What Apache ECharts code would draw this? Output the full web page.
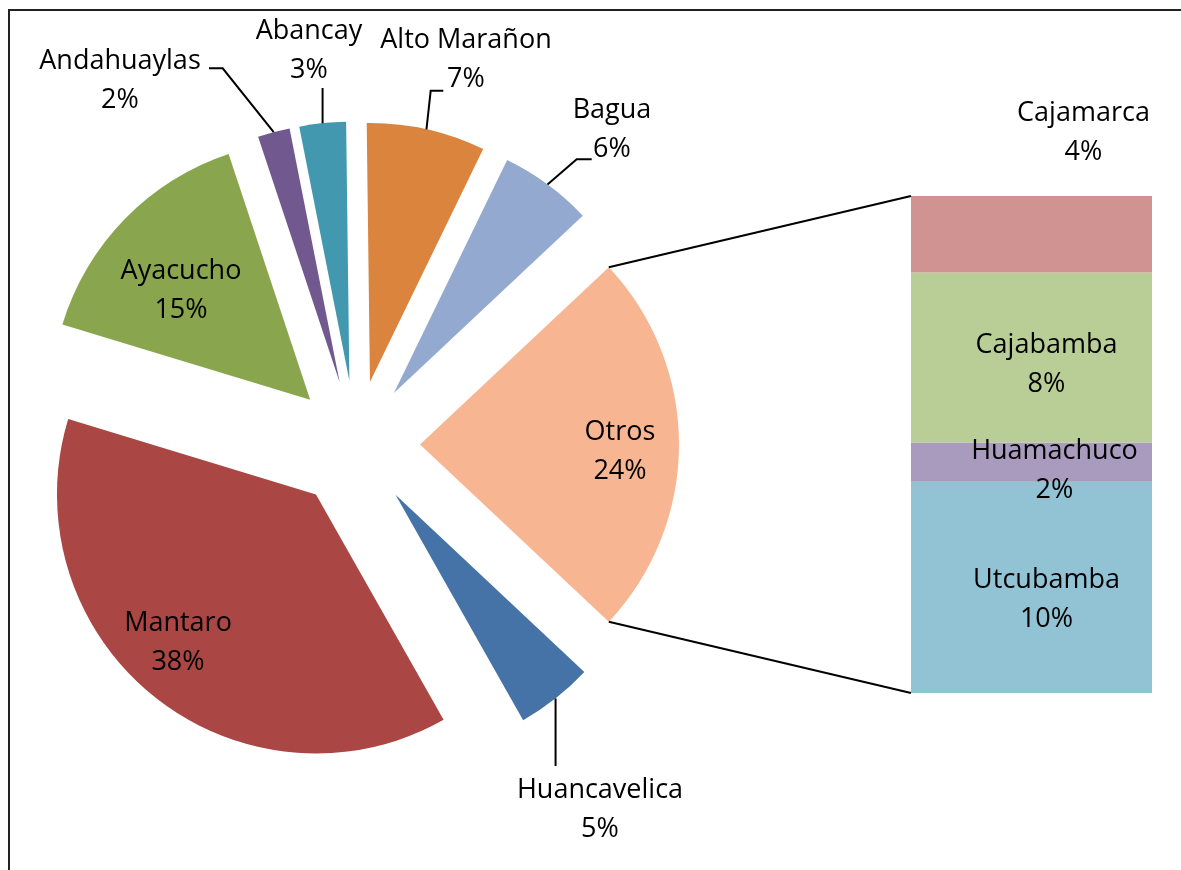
<!DOCTYPE html>
<html><head><meta charset="utf-8">
<script src="https://cdn.jsdelivr.net/npm/echarts@6/dist/echarts.min.js"></script>
<style>html,body{margin:0;padding:0;background:#fff}#c{width:1181px;height:870px}</style>
</head><body><div id="c"></div>
<script>
// ---- data ----
const pieNames = ['Otros', 'Huancavelica', 'Mantaro', 'Ayacucho', 'Andahuaylas', 'Abancay', 'Alto Marañon', 'Bagua'];
const pieValues = [24.0, 4.8, 37.9, 15.2, 2.0, 2.9, 7.4, 5.8];
const barNames = ['Cajamarca', 'Cajabamba', 'Huamachuco', 'Utcubamba'];
const barValues = [3.7, 8.2, 1.9, 10.2];

// ---- styles ----
const pieColors = ['#F8B592', '#4572A7', '#AA4643', '#89A54E', '#71588F', '#4198AF', '#DB843D', '#93A9CF'];
const barColors = ['#D19392', '#B9CD96', '#A99BBD', '#91C3D5'];
const FONT = '"Open Sans", "Noto Sans", sans-serif';
const FS = 27, LH = 39;
const PIE_C = [356, 444.5], PIE_R = 259, EXPLODE = 64;
const GRID = { left: 911, top: 196, width: 241, height: 497 };
const LINE_W = 2;

// label block centres for pie labels
const pieLabelPos = {
  'Otros': [620, 452], 'Huancavelica': [600, 810], 'Mantaro': [178, 643], 'Ayacucho': [181, 291],
  'Andahuaylas': [120, 81], 'Abancay': [309, 51], 'Alto Marañon': [466, 60], 'Bagua': [612, 130]
};
// leader line points after the start on the slice (null x = same x as start)
const leaderPaths = {
  'Huancavelica': [[null, 766]],
  'Andahuaylas': [[222.7, 68.3], [209, 68.3]],
  'Abancay': [[null, 88]],
  'Alto Marañon': [[430.7, 90.7], [443.3, 90.7]],
  'Bagua': [[576.7, 159.3], [591.7, 159.3]]
};
const barLabelCfg = {
  'Cajamarca': { position: 'top', offset: [52, -19] },
  'Cajabamba': { position: 'inside', offset: [15, 7] },
  'Huamachuco': { position: 'inside', offset: [23, 9] },
  'Utcubamba': { position: 'inside', offset: [15, 12] }
};

const total = pieValues.reduce((a, b) => a + b, 0);
const barTotal = barValues.reduce((a, b) => a + b, 0);
const startAngle = pieValues[0] / total * 180;

function sliceAngles(i) {
  let a0 = -startAngle;
  for (let k = 0; k < i; k++) a0 += pieValues[k] / total * 360;
  const a1 = a0 + pieValues[i] / total * 360;
  return [a0 * Math.PI / 180, a1 * Math.PI / 180];
}

const textStyle = { color: '#000', fontFamily: FONT, fontSize: FS, lineHeight: LH, align: 'center' };

const chart = echarts.init(document.getElementById('c'), null, { renderer: 'canvas' });

const barSeries = [];
for (let i = barNames.length - 1; i >= 0; i--) {
  const cfg = barLabelCfg[barNames[i]];
  barSeries.push({
    type: 'bar', name: barNames[i], stack: 'otros', barWidth: '100%',
    xAxisIndex: 0, yAxisIndex: 0,
    data: [barValues[i]],
    itemStyle: { color: barColors[i] },
    label: Object.assign({
      show: true, position: cfg.position, offset: cfg.offset, distance: 5,
      formatter: () => barNames[i] + '\n' + Math.round(barValues[i] / total * 100) + '%'
    }, textStyle),
    emphasis: { disabled: true }
  });
}

chart.setOption({
  animation: false,
  backgroundColor: '#fff',
  grid: { left: GRID.left, top: GRID.top, width: GRID.width, height: GRID.height },
  xAxis: { type: 'category', data: ['Otros'], show: false },
  yAxis: { type: 'value', min: 0, max: barTotal, show: false },
  series: [{
    type: 'pie',
    center: PIE_C,
    radius: [0, PIE_R],
    startAngle: startAngle,
    clockwise: true,
    selectedMode: 'multiple',
    selectedOffset: EXPLODE,
    avoidLabelOverlap: false,
    emphasis: { disabled: true, scale: false },
    label: { show: false },
    labelLine: { show: false },
    data: pieNames.map((n, i) => ({ name: n, value: pieValues[i], selected: true, itemStyle: { color: pieColors[i] } }))
  }].concat(barSeries)
});

// ---- labels, connectors & leader lines ----
const graphics = [];
// Otros to bar
const [o0, o1] = sliceAngles(0);
const om = (o0 + o1) / 2;
const oc = [PIE_C[0] + EXPLODE * Math.cos(om), PIE_C[1] + EXPLODE * Math.sin(om)];
const pTop = [oc[0] + PIE_R * Math.cos(o0), oc[1] + PIE_R * Math.sin(o0)];
const pBot = [oc[0] + PIE_R * Math.cos(o1), oc[1] + PIE_R * Math.sin(o1)];
const barTopY = chart.convertToPixel({ yAxisIndex: 0 }, barTotal);
const barBotY = chart.convertToPixel({ yAxisIndex: 0 }, 0);
const barLeftX = GRID.left;
graphics.push({ type: 'line', shape: { x1: pTop[0], y1: pTop[1], x2: barLeftX, y2: barTopY }, style: { stroke: '#000', lineWidth: LINE_W }, z: 5 });
graphics.push({ type: 'line', shape: { x1: pBot[0], y1: pBot[1], x2: barLeftX, y2: barBotY }, style: { stroke: '#000', lineWidth: LINE_W }, z: 5 });

pieNames.forEach((n, i) => {
  const pos = pieLabelPos[n];
  graphics.push({
    type: 'text', x: pos[0], y: pos[1], z: 20,
    style: {
      text: n + '\n' + Math.round(pieValues[i] / total * 100) + '%',
      fill: '#000', fontFamily: FONT, fontSize: FS, lineHeight: LH,
      align: 'center', verticalAlign: 'middle'
    }
  });
  const path = leaderPaths[n];
  if (!path) return;
  const [a0, a1] = sliceAngles(i);
  const m = (a0 + a1) / 2;
  const start = [PIE_C[0] + (PIE_R + EXPLODE) * Math.cos(m), PIE_C[1] + (PIE_R + EXPLODE) * Math.sin(m)];
  const pts = [start].concat(path.map(p => [p[0] == null ? start[0] : p[0], p[1]]));
  graphics.push({ type: 'polyline', shape: { points: pts }, style: { stroke: '#000', lineWidth: LINE_W, fill: null }, z: 5 });
});

// outer frame
graphics.push({ type: 'rect', shape: { x: 9, y: 10, width: 1200, height: 900 }, style: { stroke: '#222', lineWidth: 2, fill: null }, z: 10 });

chart.setOption({ graphic: graphics });
</script>
</body></html>
